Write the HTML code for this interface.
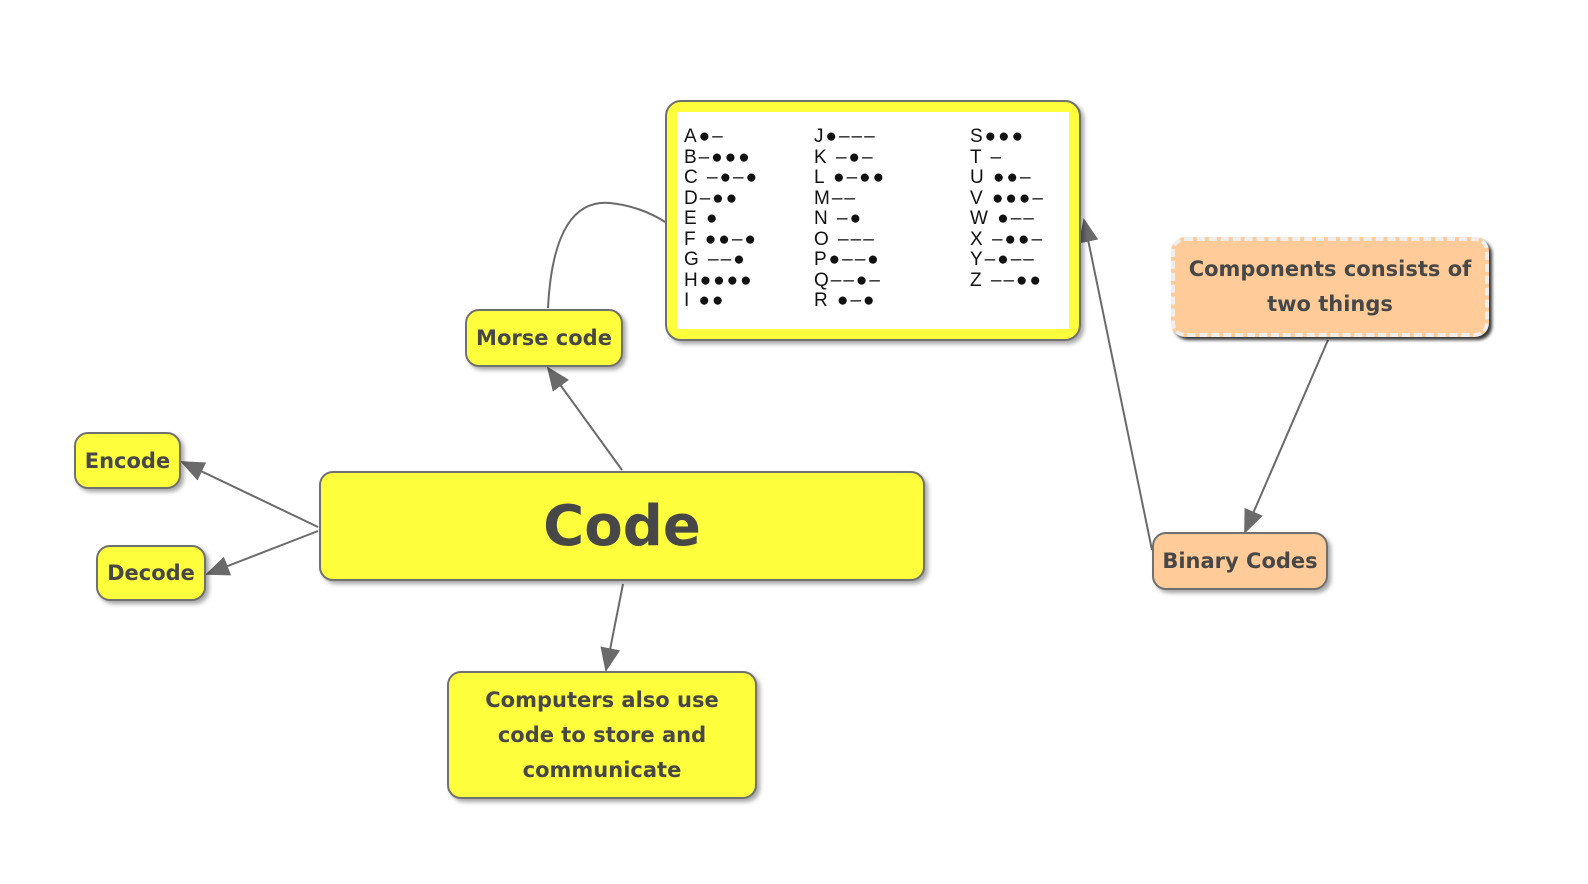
<!DOCTYPE html>
<html><head><meta charset="utf-8"><style>
body{margin:0;width:1588px;height:884px;background:#fff;position:relative;overflow:hidden;font-family:"DejaVu Sans","Liberation Sans",sans-serif;}
.n{position:absolute;box-sizing:border-box;background:#fefe3c;border:2px solid #707070;border-radius:14px;box-shadow:3px 3px 4px rgba(0,0,0,.35);color:#474747;font-weight:bold;display:flex;align-items:center;justify-content:center;text-align:center;}
.m{position:absolute;font-family:"Liberation Sans",sans-serif;font-size:19px;line-height:20.5px;color:#111;white-space:pre;letter-spacing:2px}
</style></head><body>
<svg width="1588" height="884" style="position:absolute;left:0;top:0">
<defs><marker id="b" markerWidth="24" markerHeight="24" refX="22" refY="10" orient="auto" markerUnits="userSpaceOnUse" viewBox="0 0 24 20"><path d="M0,0 L24,10 L0,20z" fill="#6a6a6a"/></marker></defs>
<g stroke="#6a6a6a" stroke-width="2" fill="none">
<path d="M622,470 L548,368" marker-end="url(#b)"/>
<path d="M318,527 L182,462" marker-end="url(#b)"/>
<path d="M318,531 L207,574" marker-end="url(#b)"/>
<path d="M623,584 L606,670" marker-end="url(#b)"/>
<path d="M548,308 C552,230 575,200 610,203 C630,205 650,212 665,222"/>
<path d="M1152,550 L1084,220" marker-end="url(#b)"/>
<path d="M1328,340 L1245,532" marker-end="url(#b)"/>
</g></svg>
<div class="n" style="left:665px;top:100px;width:416px;height:241px;border-radius:16px;background:#fefe3c;padding:0"><div style="position:absolute;left:10px;top:10px;right:10px;bottom:10px;background:#fff"></div></div>
<div class="m" style="left:684px;top:127px">A●–
B–●●●
C –●–●
D–●●
E ●
F ●●–●
G ––●
H●●●●
I ●●</div>
<div class="m" style="left:814px;top:127px">J●–––
K –●–
L ●–●●
M––
N –●
O –––
P●––●
Q––●–
R ●–●</div>
<div class="m" style="left:970px;top:127px">S●●●
T –
U ●●–
V ●●●–
W ●––
X –●●–
Y–●––
Z ––●●</div>
<div class="n" style="left:465px;top:309px;width:158px;height:58px;font-size:21px">Morse code</div>
<div class="n" style="left:74px;top:432px;width:107px;height:57px;font-size:21px">Encode</div>
<div class="n" style="left:96px;top:545px;width:110px;height:56px;font-size:21px">Decode</div>
<div class="n" style="left:319px;top:471px;width:606px;height:110px;font-size:56px">Code</div>
<div class="n" style="left:447px;top:671px;width:310px;height:128px;font-size:21px;line-height:35px">Computers also use<br>code to store and<br>communicate</div>
<div class="n" style="left:1171px;top:237px;width:318px;height:100px;font-size:21px;line-height:35px;background:#ffcc99;border:4px dashed #eee;box-shadow:3px 3px 3px rgba(0,0,0,.8)">Components consists of<br>two things</div>
<div class="n" style="left:1152px;top:532px;width:176px;height:58px;font-size:21px;background:#ffcc99">Binary Codes</div>
</body></html>
